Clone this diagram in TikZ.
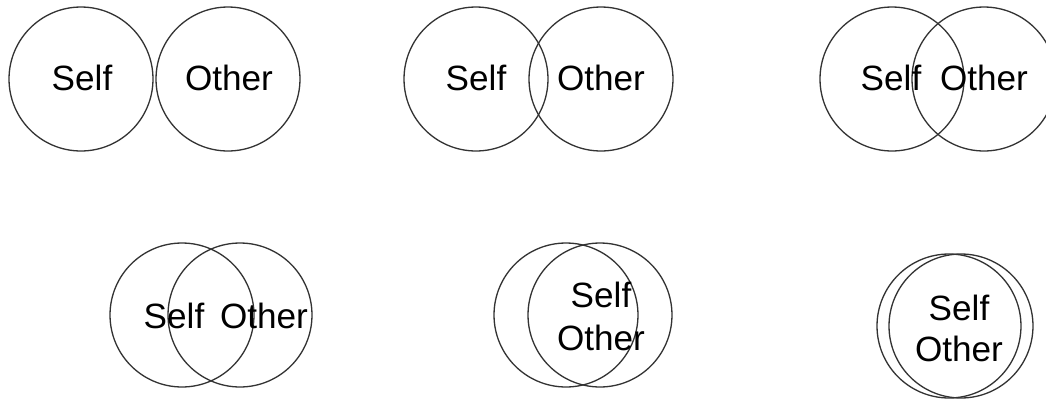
\documentclass[tikz,border=0pt]{standalone}
\usepackage{fontspec}
\setmainfont{Liberation Sans}

\begin{document}
\begin{tikzpicture}[x=0.02cm, y=-0.02cm, font=\fontsize{20}{24}\selectfont,
  ring/.style={draw=black!80, circle, line width=0.75pt, minimum size=2.88cm, inner sep=0pt},
  lbl/.style={anchor=base, inner sep=0pt}]
\useasboundingbox (0,0) rectangle (1046,400);
% top row
\node[ring] (self1) at (81,79) {};
\node[ring] (other1) at (228,79) {};
\node[lbl] (tself1) at (82,90) {Self};
\node[lbl] (tother1) at (229,90) {Other};

\node[ring] (self2) at (476,79) {};
\node[ring] (other2) at (601,79) {};
\node[lbl] (tself2) at (476,90) {Self};
\node[lbl] (tother2) at (601,90) {Other};

\node[ring] (self3) at (892,79) {};
\node[ring] (other3) at (984,79) {};
\node[lbl] (tself3) at (891,90) {Self};
\node[lbl] (tother3) at (984,90) {Other};

% bottom row
\node[ring] (self4) at (182,315) {};
\node[ring] (other4) at (240,315) {};
\node[lbl] (tself4) at (174,328) {Self};
\node[lbl] (tother4) at (264,328) {Other};

\node[ring] (self5) at (566,315) {};
\node[ring] (other5) at (600,315) {};
\node[lbl] (tself5) at (601,307) {Self};
\node[lbl] (tother5) at (601,350) {Other};

\node[ring] (self6) at (949,326) {};
\node[ring] (other6) at (961,326) {};
\node[lbl] (tself6) at (959,320) {Self};
\node[lbl] (tother6) at (959,361) {Other};
\end{tikzpicture}
\end{document}
